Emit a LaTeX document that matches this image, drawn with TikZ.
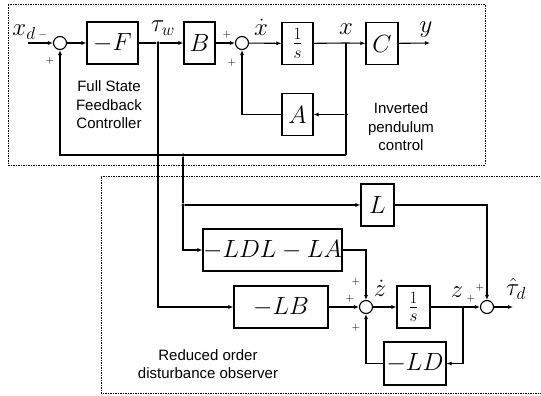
\documentclass[tikz,border=0pt]{standalone}
\usepackage{fontspec}
\setsansfont{Liberation Sans}
\usetikzlibrary{arrows.meta}
\begin{document}
\begin{tikzpicture}[x=1pt,y=-1pt,
  blk/.style={draw,line width=1.1pt,minimum width=#1,minimum height=42pt,inner sep=0pt,font=\fontsize{25}{27}\selectfont},
  blk/.default=31pt,
  sumc/.style={draw,circle,line width=1.1pt,minimum size=13pt,inner sep=0pt},
  sig/.style={line width=1.1pt,-{Latex[length=5pt,width=4pt]}},
  ln/.style={line width=1.1pt},
  jdot/.style={circle,fill,inner sep=0pt,minimum size=3.5pt},
  lab/.style={font=\fontsize{24}{25}\selectfont,inner sep=0pt},
  sgn/.style={font=\fontsize{11}{12}\selectfont,inner sep=0pt},
  txt/.style={font=\sffamily\fontsize{15}{18.5}\selectfont,align=center},
  frame/.style={line width=1pt,dash pattern=on 1.5pt off 1pt}
]
\useasboundingbox (0,0) rectangle (541,396);
% frames
\draw[frame] (8,5) rectangle (485,165);
\draw[frame] (545,176) -- (101,176) -- (101,393) -- (545,393);

% top loop
\coordinate (in) at (28,43);
\node[sumc] (s1) at (60,43) {};
\node[blk=51pt] (F) at (112.5,43) {$-F$};
\node[jdot] (jt) at (158,43) {};
\node[blk] (B) at (199.5,43) {$B$};
\node[sumc] (s2) at (242,43) {};
\node[blk] (I1) at (297.5,43.5) {$\frac{1}{s}$};
\coordinate (jx) at (346,43);
\node[blk=32pt] (C) at (382,43.5) {$C$};
\coordinate (yout) at (430,43);
\node[blk] (A) at (297.5,114.5) {$A$};
\node[jdot] (jxA) at (346,114.5) {};
\coordinate (fbc) at (346,155);
\node[jdot] (d1) at (183,155) {};

% bottom
\node[jdot] (d2) at (183,205) {};
\node[blk=33pt] (L) at (377.5,205) {$L$};
\node[blk=139pt] (LDLA) at (272.5,250) {$-LDL-LA$};
\node[blk=94pt] (LB) at (281,307) {$-LB$};
\node[sumc] (s3) at (366,307) {};
\node[blk=33pt] (I2) at (413.5,307) {$\frac{1}{s}$};
\coordinate (jz) at (463,307);
\node[sumc] (s4) at (487,307) {};
\coordinate (out) at (513,307);
\node[blk=62pt,minimum height=43pt] (LD) at (415,363.5) {$-LD$};

% connections top
\draw[sig] (in) -- (s1);
\draw[sig] (s1) -- (F);
\draw[ln] (F) -- (jt);
\draw[sig] (jt) -- (B);
\draw[sig] (B) -- (s2);
\draw[sig] (s2) -- (I1);
\draw[ln] (I1) -- (jx);
\draw[sig] (jx) -- (C);
\draw[sig] (C) -- (yout);
\draw[ln] (jx) -- (fbc);
\draw[sig] (jxA) -- (A);
\draw[sig] (A.west) -| (s2.south);
\draw[sig] (fbc) -- (d1.center) -| (s1.south);

% connections bottom
\draw[ln] (d1) -- (d2);
\draw[sig] (d2) -- (L);
\draw[sig] (d2.center) |- (LDLA.west);
\draw[sig] (jt.center) |- (LB.west);
\draw[sig] (LDLA.east) -| (s3.north);
\draw[sig] (LB) -- (s3);
\draw[sig] (s3) -- (I2);
\draw[ln] (I2) -- (jz);
\draw[sig] (jz) -- (s4);
\draw[sig] (L.east) -| (s4.north);
\draw[sig] (s4) -- (out);
\draw[sig] (jz) |- (LD.east);
\draw[sig] (LD.west) -| (s3.south);

% signal labels
\node[lab] (lxd) at (24,32) {$x_d$};
\node[lab] (ltw) at (163,28) {$\tau_w$};
\node[lab] (lxdot) at (261,27) {$\dot{x}$};
\node[lab] (lx) at (346,29) {$x$};
\node[lab] (ly) at (426,30) {$y$};
\node[lab] (lzdot) at (380,288) {$\dot{z}$};
\node[lab] (lz) at (457,292) {$z$};
\node[lab] (ltd) at (516,289) {$\hat{\tau}_d$};

% signs
\node[sgn] (m1) at (43,35) {$-$};
\node[sgn] (p1) at (50,61) {$+$};
\node[sgn] (p2) at (227,35) {$+$};
\node[sgn] (p3) at (232,63) {$+$};
\node[sgn] (p4) at (356,282) {$+$};
\node[sgn] (p5) at (350,299) {$+$};
\node[sgn] (p6) at (356,328) {$+$};
\node[sgn] (p7) at (471,299) {$+$};
\node[sgn] (p8) at (480,288) {$+$};

% texts
\node[txt] (t1) at (109,105) {Full State\\Feedback\\Controller};
\node[txt] (t2) at (401,127) {Inverted\\pendulum\\control};
\node[txt] (t3) at (208,364) {Reduced order\\disturbance observer};
\end{tikzpicture}
\end{document}
